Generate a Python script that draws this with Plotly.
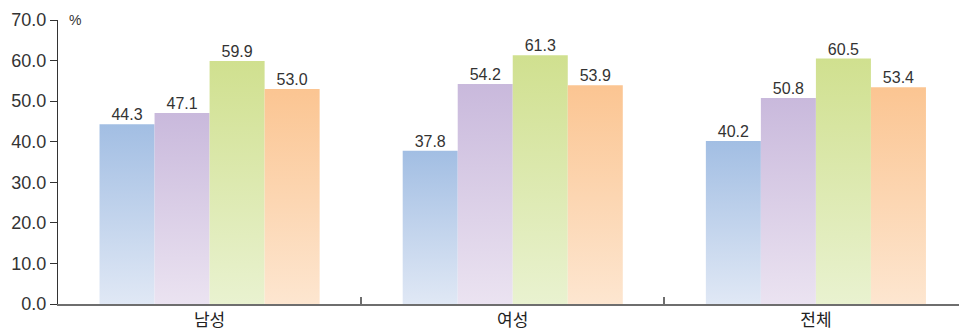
import plotly.graph_objects as go

# Survey results by group (%)
groups = ["남성", "여성", "전체"]
series_a = [44.3, 37.8, 40.2]
series_b = [47.1, 54.2, 50.8]
series_c = [59.9, 61.3, 60.5]
series_d = [53.0, 53.9, 53.4]
y_ticks = [0, 10, 20, 30, 40, 50, 60, 70]

series = [series_a, series_b, series_c, series_d]
# (bottom colour, top colour) for each series' vertical gradient
gradients = [
    ("#e0e8f5", "#a2bee3"),
    ("#ebe3f1", "#c9b9dc"),
    ("#e9f2d0", "#d0e08f"),
    ("#fde6d0", "#fbc592"),
]

bar_w = 0.1815
num_font = "Liberation Sans, Arial, sans-serif"
kr_font = "Noto Sans CJK KR, sans-serif"

fig = go.Figure()

for j, (vals, (c0, c1)) in enumerate(zip(series, gradients)):
    off = (j - 1.5) * bar_w
    for i, v in enumerate(vals):
        x0 = i + off - bar_w / 2
        x1 = i + off + bar_w / 2
        fig.add_trace(go.Scatter(
            x=[x0, x1, x1, x0, x0],
            y=[0, 0, v, v, 0],
            mode="lines",
            line=dict(width=0),
            fill="toself",
            fillgradient=dict(
                type="vertical",
                colorscale=[[0, c0], [1, c1]],
                start=0,
                stop=v,
            ),
            hoverinfo="skip",
            showlegend=False,
        ))
    # value labels above each bar
    fig.add_trace(go.Scatter(
        x=[i + off for i in range(len(vals))],
        y=vals,
        mode="text",
        text=[f"{v:.1f}" for v in vals],
        textposition="top center",
        textfont=dict(family=num_font, size=16, color="#333333"),
        hoverinfo="skip",
        showlegend=False,
    ))

fig.update_layout(
    width=959,
    height=334,
    margin=dict(l=58, r=0, t=20, b=30),
    plot_bgcolor="white",
    paper_bgcolor="white",
    showlegend=False,
    xaxis=dict(
        range=[-0.5, 2.472],
        tickvals=[0, 1, 2],
        ticktext=groups,
        ticks="",
        tickfont=dict(family=kr_font, size=17, color="#222222"),
        showgrid=False,
        zeroline=False,
        showline=True,
        linecolor="#6e6e6e",
        linewidth=2,
        minor=dict(tickvals=[0.5, 1.5], ticks="inside", ticklen=7,
                   tickwidth=1.5, tickcolor="#6e6e6e", showgrid=False),
        fixedrange=True,
    ),
    yaxis=dict(
        range=[0, 70],
        tickvals=y_ticks,
        ticktext=[f"{t:.1f}" for t in y_ticks],
        ticks="outside",
        ticklen=7,
        tickcolor="#333333",
        tickwidth=1,
        tickfont=dict(family=num_font, size=18, color="#333333"),
        showgrid=False,
        zeroline=False,
        showline=True,
        linecolor="#333333",
        linewidth=1,
        fixedrange=True,
    ),
    annotations=[
        dict(text="%", xref="paper", yref="paper", x=0.01, y=1.0,
             xanchor="left", yanchor="middle", showarrow=False,
             font=dict(family=num_font, size=14, color="#333333")),
    ],
)

fig.write_html("out.html")
